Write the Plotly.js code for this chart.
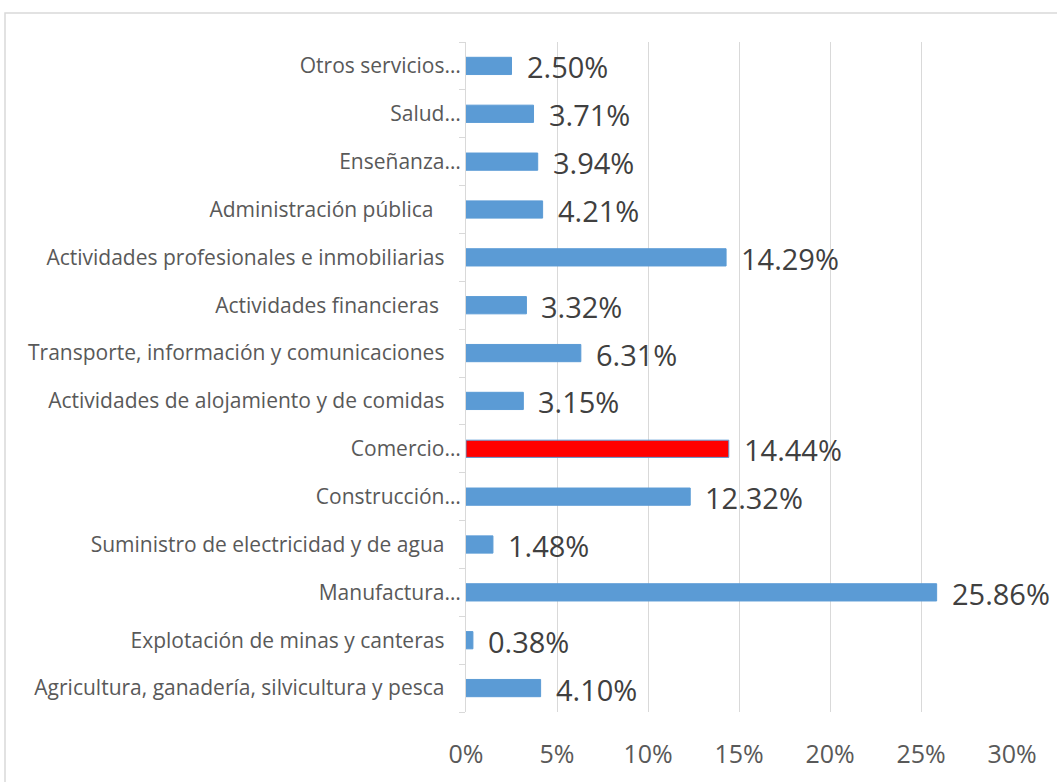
<!DOCTYPE html>
<html>
<head>
<meta charset="utf-8">
<script src="https://cdn.plot.ly/plotly-3.0.1.min.js"></script>
<style>html,body{margin:0;padding:0;background:#fff;}#chart{width:1057px;height:782px;}</style>
</head>
<body>
<div id="chart"></div>
<script>
const categories = [
  "Agricultura, ganadería, silvicultura y pesca\u00a0\u00a0\u00a0",
  "Explotación de minas y canteras\u00a0\u00a0\u00a0",
  "Manufactura…",
  "Suministro de electricidad y de agua\u00a0\u00a0\u00a0",
  "Construcción…",
  "Comercio…",
  "Actividades de alojamiento y de comidas\u00a0\u00a0\u00a0",
  "Transporte, información y comunicaciones\u00a0\u00a0\u00a0",
  "Actividades financieras\u00a0\u00a0\u00a0\u00a0",
  "Actividades profesionales e inmobiliarias\u00a0\u00a0\u00a0",
  "Administración pública\u00a0\u00a0\u00a0\u00a0\u00a0",
  "Enseñanza…",
  "Salud…",
  "Otros servicios…"
];
const values = [4.10, 0.38, 25.86, 1.48, 12.32, 14.44, 3.15, 6.31, 3.32, 14.29, 4.21, 3.94, 3.71, 2.50];
const highlight = "Comercio…";
const xTicks = [0, 5, 10, 15, 20, 25, 30];

const colors = categories.map(c => c === highlight ? "#FF0000" : "#5B9BD5");

const trace = {
  type: "bar",
  orientation: "h",
  y: categories,
  x: values,
  marker: {color: colors, line: {color: "#5B9BD5", width: 1}},
  width: 0.36,
  hoverinfo: "skip"
};

const annotations = categories.map((c, i) => ({
  x: values[i], y: c, xref: "x", yref: "y",
  text: values[i].toFixed(2) + "%",
  showarrow: false, xanchor: "left", yanchor: "middle",
  xshift: 13, yshift: -1,
  font: {family: "'Open Sans', sans-serif", size: 29, color: "#404040"}
}));

const layout = {
  width: 1057, height: 782,
  margin: {l: 466, r: 45, t: 42, b: 70},
  paper_bgcolor: "#ffffff", plot_bgcolor: "#ffffff",
  showlegend: false,
  font: {family: "'Open Sans', sans-serif", color: "#595959"},
  xaxis: {
    range: [0, 30], tickvals: xTicks, ticktext: xTicks.map(v => v + "%"),
    showgrid: true, gridcolor: "#d9d9d9", gridwidth: 1,
    zeroline: false, showline: false, ticks: "",
    ticklabelstandoff: 25,
    tickfont: {family: "'Open Sans', sans-serif", size: 25, color: "#595959"}, fixedrange: true
  },
  yaxis: {
    type: "category", categoryorder: "array", categoryarray: categories,
    showline: true, linecolor: "#d9d9d9", linewidth: 1,
    ticks: "outside", tickson: "boundaries", ticklen: 6, tickcolor: "#d9d9d9",
    showgrid: false, zeroline: false,
    tickfont: {family: "'Open Sans', sans-serif", size: 21, color: "#595959"}, fixedrange: true
  },
  annotations: annotations,
  shapes: [{
    type: "rect", xref: "paper", yref: "paper",
    x0: (5 - 466) / 546, x1: 1.2, y0: -0.3, y1: 1 + (42 - 13) / 670,
    line: {color: "#d9d9d9", width: 1.5}, fillcolor: "rgba(0,0,0,0)", layer: "below"
  }]
};

Plotly.newPlot("chart", [trace], layout, {staticPlot: true, displayModeBar: false});
</script>
</body>
</html>
